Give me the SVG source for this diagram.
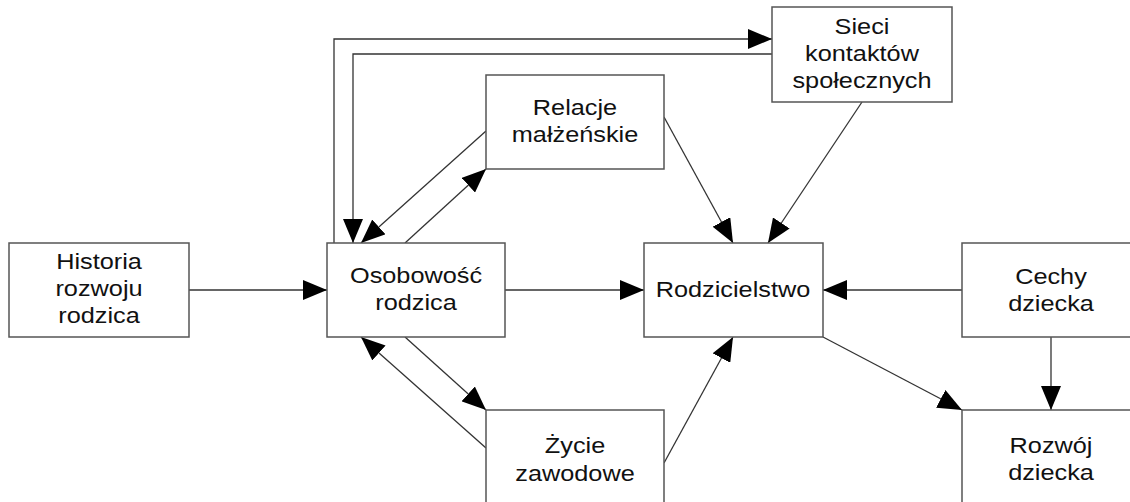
<svg xmlns="http://www.w3.org/2000/svg" width="1130" height="502" viewBox="0 0 1130 502">
  <style>
    .box { fill: #ffffff; stroke: #555555; stroke-width: 1.5; }
    .lbl { font-family: "Liberation Sans", Arial, sans-serif; font-size: 22px; fill: #111111; text-anchor: middle; }
    .edge { fill: none; stroke: #333333; stroke-width: 1.3; marker-end: url(#arrow); }
  </style>
  <defs>
    <marker id="arrow" markerUnits="userSpaceOnUse" markerWidth="24" markerHeight="20" refX="24" refY="10" orient="auto">
      <path d="M0,0 L24,10 L0,20 Z" fill="#000000"/>
    </marker>
  </defs>
  <rect width="1130" height="502" fill="#ffffff"/>

  <g id="connectors">
    <!-- horizontal flows on the middle row -->
    <line class="edge" x1="189" y1="290" x2="327" y2="290"/>
    <line class="edge" x1="505" y1="290" x2="644" y2="290"/>
    <line class="edge" x1="962" y1="290" x2="823" y2="290"/>
    <line class="edge" x1="1051" y1="337" x2="1051" y2="410"/>
    <line class="edge" x1="823" y1="337" x2="962" y2="410"/>
    <!-- into parenting -->
    <line class="edge" x1="664" y1="117" x2="733" y2="243"/>
    <line class="edge" x1="862" y1="102" x2="768" y2="243"/>
    <line class="edge" x1="664" y1="463" x2="733" y2="337"/>
    <!-- personality <-> marital relations -->
    <line class="edge" x1="405" y1="243" x2="486" y2="169"/>
    <line class="edge" x1="486" y1="131" x2="361" y2="243"/>
    <!-- personality <-> working life -->
    <line class="edge" x1="405" y1="337" x2="486" y2="410"/>
    <line class="edge" x1="486" y1="448" x2="361" y2="337"/>
    <!-- personality <-> social networks loop -->
    <polyline class="edge" points="334,243 334,39 772,39"/>
    <polyline class="edge" points="772,54 353,54 353,243"/>
  </g>

  <g id="historia">
    <rect class="box" x="9" y="243" width="180" height="94"/>
    <g transform="translate(99,0) scale(1.15,1)">
      <text class="lbl" x="0" y="269">Historia</text>
      <text class="lbl" x="0" y="296">rozwoju</text>
      <text class="lbl" x="0" y="323">rodzica</text>
    </g>
  </g>

  <g id="osobowosc">
    <rect class="box" x="327" y="243" width="178" height="94"/>
    <g transform="translate(416,0) scale(1.15,1)">
      <text class="lbl" x="0" y="283">Osobowość</text>
      <text class="lbl" x="0" y="310">rodzica</text>
    </g>
  </g>

  <g id="relacje">
    <rect class="box" x="486" y="75" width="178" height="94"/>
    <g transform="translate(575,0) scale(1.15,1)">
      <text class="lbl" x="0" y="115">Relacje</text>
      <text class="lbl" x="0" y="142">małżeńskie</text>
    </g>
  </g>

  <g id="sieci">
    <rect class="box" x="772" y="7" width="180" height="95"/>
    <g transform="translate(862,0) scale(1.15,1)">
      <text class="lbl" x="0" y="34">Sieci</text>
      <text class="lbl" x="0" y="61">kontaktów</text>
      <text class="lbl" x="0" y="88">społecznych</text>
    </g>
  </g>

  <g id="rodzicielstwo">
    <rect class="box" x="644" y="243" width="179" height="94"/>
    <g transform="translate(733,0) scale(1.15,1)">
      <text class="lbl" x="0" y="297">Rodzicielstwo</text>
    </g>
  </g>

  <g id="cechy">
    <rect class="box" x="962" y="243" width="178" height="94"/>
    <g transform="translate(1051,0) scale(1.15,1)">
      <text class="lbl" x="0" y="284">Cechy</text>
      <text class="lbl" x="0" y="311">dziecka</text>
    </g>
  </g>

  <g id="zycie">
    <rect class="box" x="486" y="410" width="178" height="100"/>
    <g transform="translate(575,0) scale(1.15,1)">
      <text class="lbl" x="0" y="453">Życie</text>
      <text class="lbl" x="0" y="481">zawodowe</text>
    </g>
  </g>

  <g id="rozwoj">
    <rect class="box" x="962" y="410" width="178" height="100"/>
    <g transform="translate(1051,0) scale(1.15,1)">
      <text class="lbl" x="0" y="453">Rozwój</text>
      <text class="lbl" x="0" y="480">dziecka</text>
    </g>
  </g>
</svg>
